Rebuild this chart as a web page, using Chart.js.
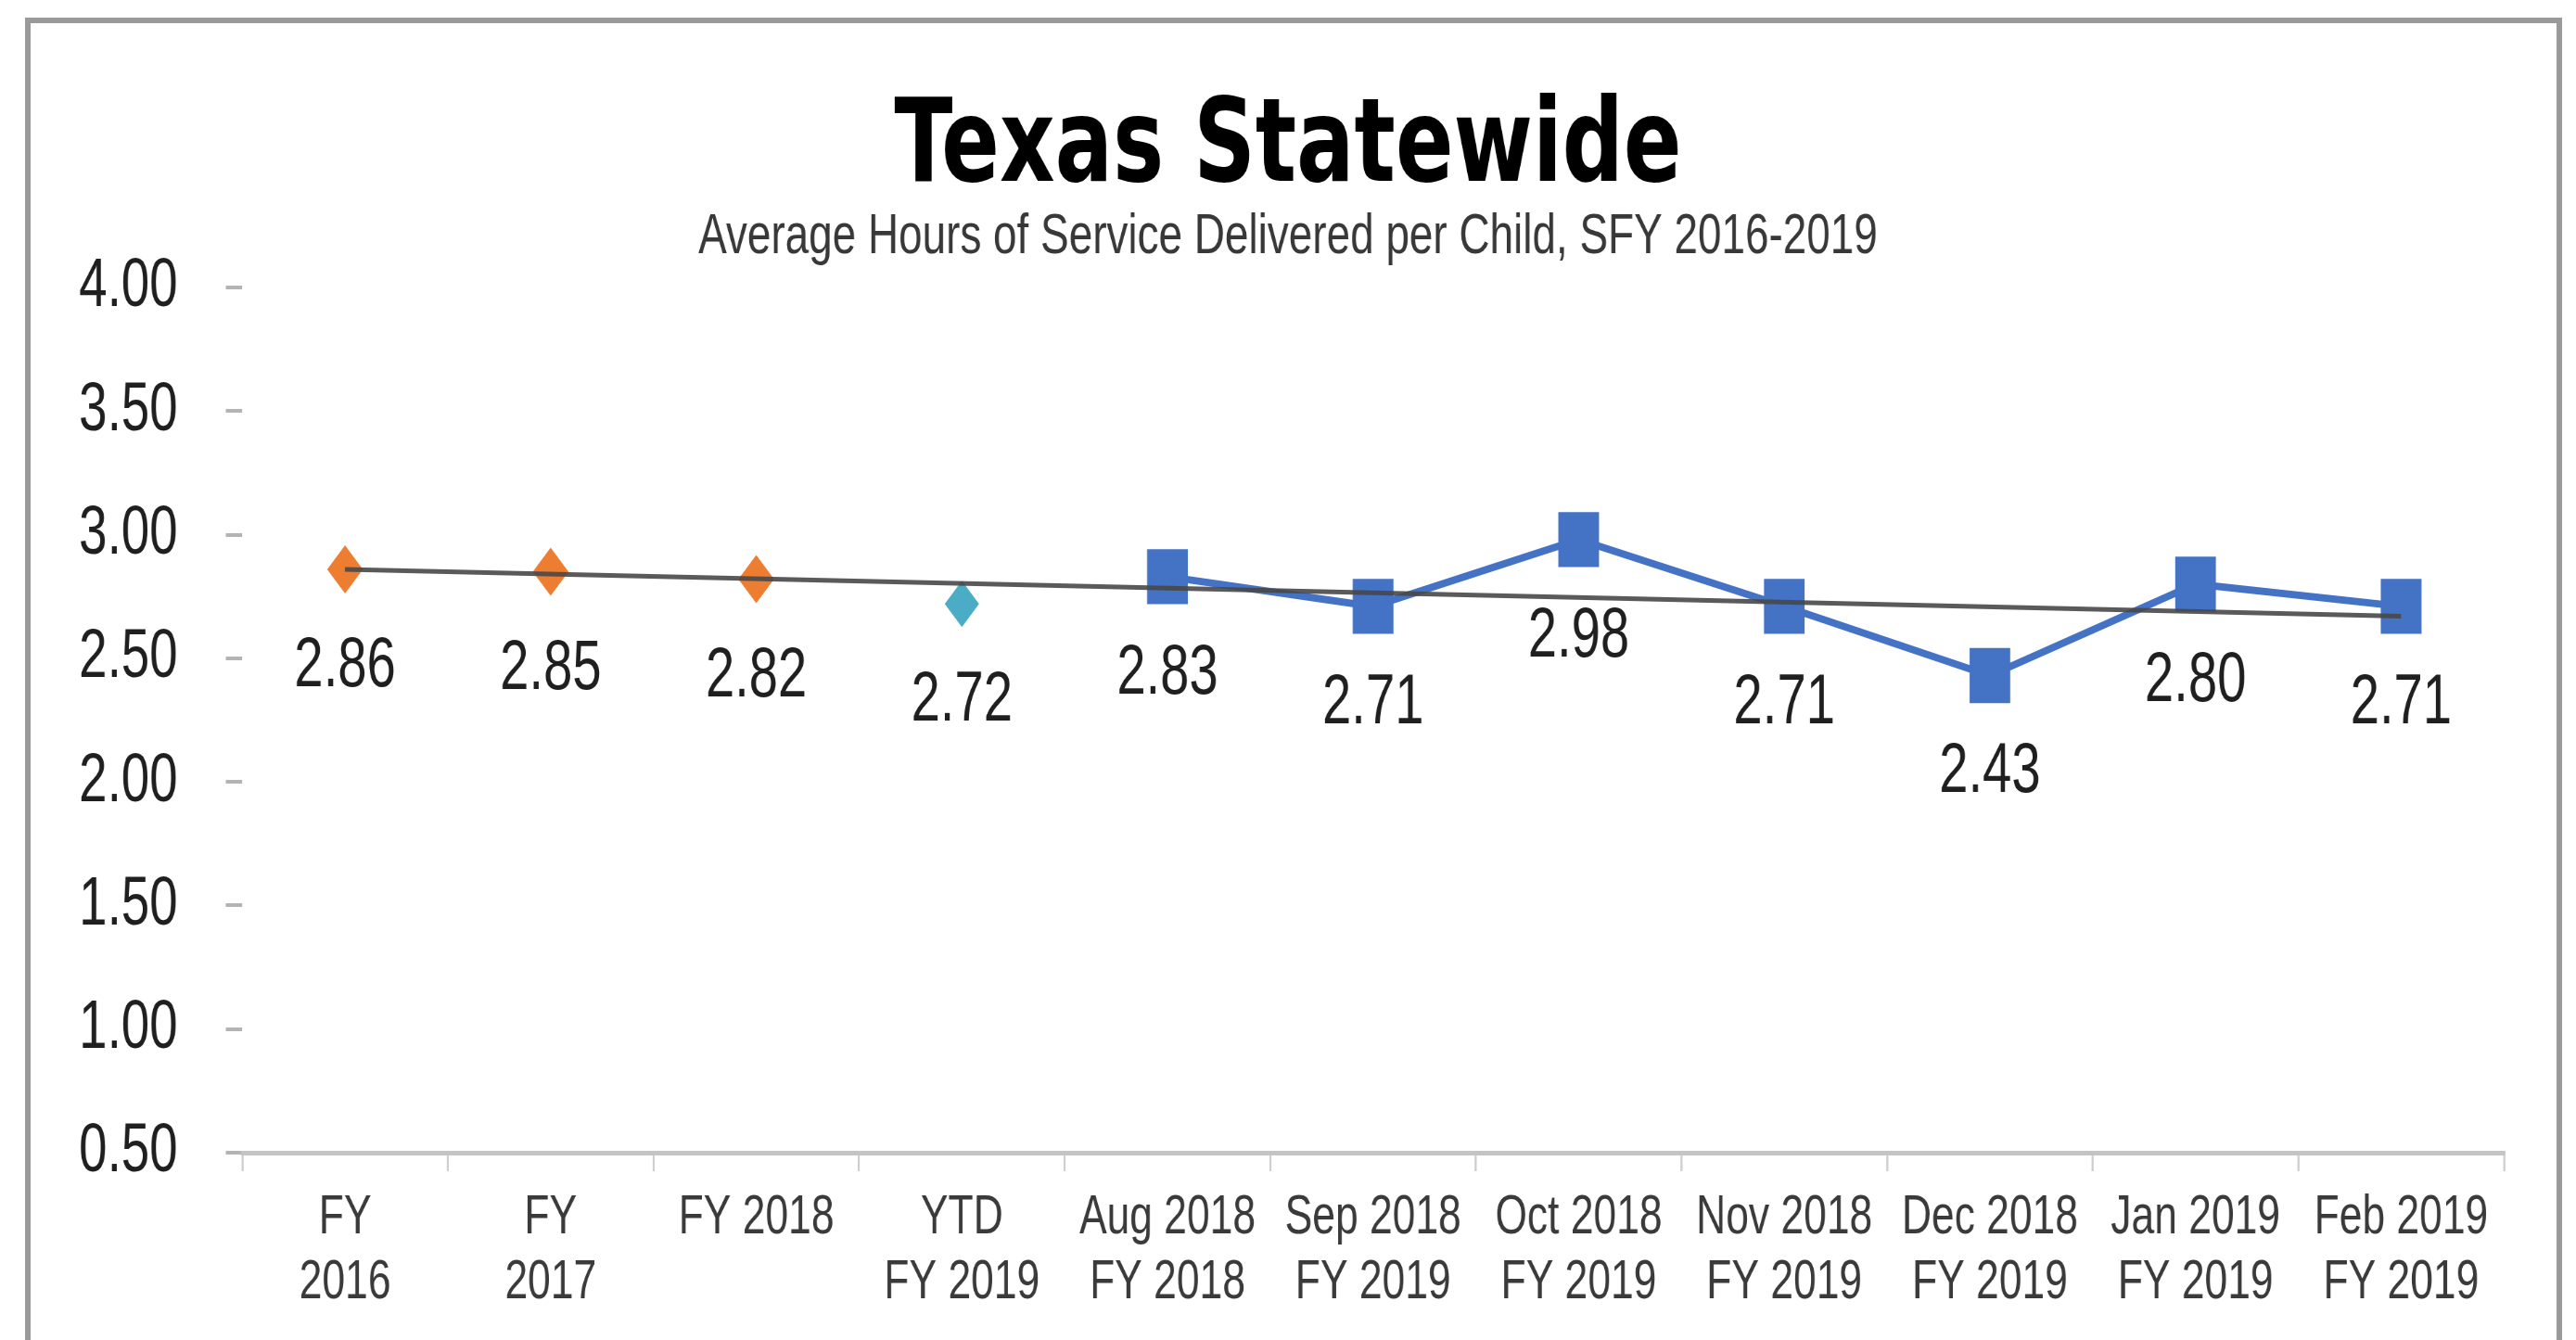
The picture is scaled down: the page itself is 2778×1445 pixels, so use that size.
<!DOCTYPE html>
<html>
<head>
<meta charset="utf-8">
<title>Texas Statewide</title>
<script src="https://cdn.jsdelivr.net/npm/chart.js@4/dist/chart.umd.min.js"></script>
<style>
    html, body { margin: 0; padding: 0; background: #fff; overflow: hidden; }
    /* chart frame, left/top/right edges only – the bottom runs off the page */
    #frame {
        position: absolute;
        left: 27px; top: 19px;
        width: 2724px; height: 1500px;
        border: 6px solid #9a9a9a;
        border-bottom: none;
    }
    /* the plot is laid out wide and squeezed back horizontally */
    #wrap {
        position: absolute;
        left: 0; top: 0;
        width: 3754px; height: 1445px;
        transform: scaleX(0.74);
        transform-origin: 0 0;
    }
</style>
</head>
<body>
<div id="frame"></div>
<div id="wrap"><canvas id="statewide-chart"></canvas></div>

<script>
    'use strict';

    // ─────────────────────────────────────────────────────────────
    // DATA
    // ─────────────────────────────────────────────────────────────

    const categories = [
        ['FY', '2016'], ['FY', '2017'], ['FY 2018'], ['YTD', 'FY 2019'],
        ['Aug 2018', 'FY 2018'], ['Sep 2018', 'FY 2019'], ['Oct 2018', 'FY 2019'],
        ['Nov 2018', 'FY 2019'], ['Dec 2018', 'FY 2019'], ['Jan 2019', 'FY 2019'],
        ['Feb 2019', 'FY 2019']
    ];

    // full fiscal years
    const annualHours = [2.86, 2.85, 2.82, null, null, null, null, null, null, null, null];
    // year to date
    const ytdHours = [null, null, null, 2.72, null, null, null, null, null, null, null];
    // month by month
    const monthlyHours = [null, null, null, null, 2.83, 2.71, 2.98, 2.71, 2.43, 2.80, 2.71];
    // linear trend, end points only
    const trendHours = [2.86, null, null, null, null, null, null, null, null, null, 2.67];

    const yTickMin = 0.5;
    const yTickMax = 4.0;
    const yTickStep = 0.5;

    // ─────────────────────────────────────────────────────────────
    // VALUE LABELS UNDER EACH MARKER
    // ─────────────────────────────────────────────────────────────

    const valueLabels = {
        id: 'valueLabels',
        afterDatasetsDraw(chart) {
            const ctx = chart.ctx;
            ctx.save();
            ctx.font = "76px 'Liberation Sans', Arial, sans-serif";
            ctx.fillStyle = '#1f1f1f';
            ctx.textAlign = 'center';
            ctx.textBaseline = 'middle';
            chart.data.datasets.forEach(function (ds, i) {
                if (!ds.valueLabels) return;
                chart.getDatasetMeta(i).data.forEach(function (pt, j) {
                    const v = ds.data[j];
                    if (v === null || v === undefined) return;
                    ctx.fillText(v.toFixed(2), pt.x, pt.y + 105);
                });
            });
            ctx.restore();
        }
    };

    // ─────────────────────────────────────────────────────────────
    // CHART
    // ─────────────────────────────────────────────────────────────

    const ctx = document.getElementById('statewide-chart').getContext('2d');

    new Chart(ctx, {
        type: 'line',
        data: {
            labels: categories,
            datasets: [
                {
                    label: 'Trend',
                    data: trendHours,
                    order: 0,
                    spanGaps: true,
                    borderColor: 'rgba(72, 72, 72, 0.9)',
                    borderWidth: 5,
                    pointRadius: 0,
                    fill: false
                },
                {
                    label: 'Monthly',
                    data: monthlyHours,
                    order: 1,
                    valueLabels: true,
                    borderColor: '#4472c4',
                    borderWidth: 8,
                    tension: 0,
                    pointStyle: 'rect',
                    pointRadius: 42,
                    pointBackgroundColor: '#4472c4',
                    pointBorderWidth: 0
                },
                {
                    label: 'YTD',
                    data: ytdHours,
                    order: 2,
                    valueLabels: true,
                    showLine: false,
                    pointStyle: 'rectRot',
                    pointRadius: 25,
                    pointBackgroundColor: '#4bacc6',
                    pointBorderWidth: 0
                },
                {
                    label: 'Fiscal Year',
                    data: annualHours,
                    order: 3,
                    valueLabels: true,
                    showLine: false,
                    pointStyle: 'rectRot',
                    pointRadius: 26,
                    pointBackgroundColor: '#ed7d31',
                    pointBorderWidth: 0
                }
            ]
        },
        options: {
            responsive: true,
            maintainAspectRatio: false,
            animation: false,
            events: [],
            layout: { padding: { top: 10, left: 105, right: 105, bottom: 0 } },
            plugins: {
                legend: { display: false },
                tooltip: { enabled: false },
                title: {
                    display: true,
                    text: 'Texas Statewide',
                    color: '#000',
                    font: { family: "'DejaVu Sans', sans-serif", size: 125, weight: 'bold', lineHeight: 1 },
                    padding: { top: 90, bottom: 0 }
                },
                subtitle: {
                    display: true,
                    text: 'Average Hours of Service Delivered per Child, SFY 2016-2019',
                    color: '#383838',
                    font: { family: "'Liberation Sans', Arial, sans-serif", size: 62, lineHeight: 1 },
                    padding: { top: 0, bottom: 23 }
                }
            },
            scales: {
                x: {
                    offset: true,
                    afterFit: function (scale) { scale.height = 202; },
                    border: { display: true, color: '#c4c4c4', width: 5 },
                    grid: {
                        offset: true,
                        drawOnChartArea: false,
                        tickLength: 20,
                        color: '#cfcfcf',
                        lineWidth: 3
                    },
                    ticks: {
                        padding: 15,
                        maxRotation: 0,
                        autoSkip: false,
                        color: '#3a3a3a',
                        font: { family: "'Liberation Sans', Arial, sans-serif", size: 60, lineHeight: 1.17 }
                    }
                },
                y: {
                    min: yTickMin,
                    max: yTickMax,
                    afterFit: function (scale) { scale.width = 248; },
                    border: { display: false },
                    grid: {
                        drawOnChartArea: false,
                        tickLength: 24,
                        color: '#b4b4b4',
                        lineWidth: 4
                    },
                    ticks: {
                        stepSize: yTickStep,
                        padding: 70,
                        color: '#1f1f1f',
                        font: { family: "'Liberation Sans', Arial, sans-serif", size: 74 },
                        callback: function (v) { return Number(v).toFixed(2); }
                    }
                }
            }
        },
        plugins: [valueLabels]
    });
</script>
</body>
</html>
